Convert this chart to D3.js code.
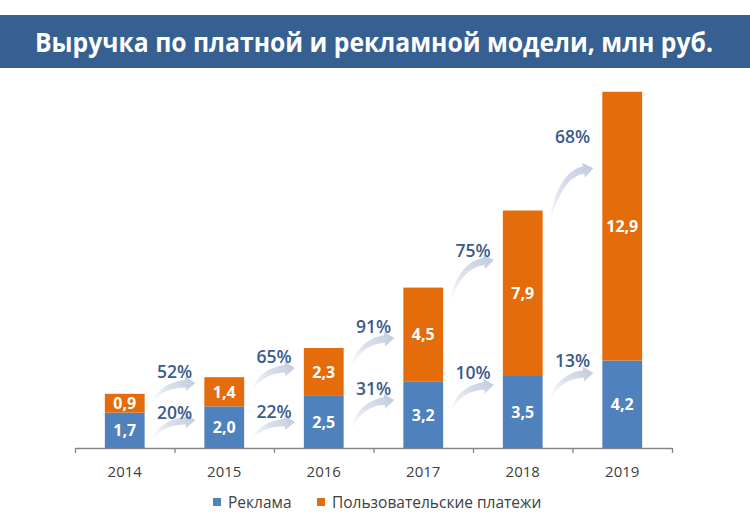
<!DOCTYPE html>
<html>
<head>
<meta charset="utf-8">
<script src="https://cdn.jsdelivr.net/npm/d3@7"></script>
<style>
  body { margin: 0; background: #fff; }
  svg { display: block; font-family: "Open Sans", sans-serif; }
</style>
</head>
<body>
<div id="chart"></div>
<script>
// chart data (млн руб.)
const years = ["2014", "2015", "2016", "2017", "2018", "2019"];
const reklama = [1.7, 2.0, 2.5, 3.2, 3.5, 4.2];
const platezhi = [0.9, 1.4, 2.3, 4.5, 7.9, 12.9];
const seriesNames = ["Реклама", "Пользовательские платежи"];

// growth labels between neighbouring years
const growthReklama = ["20%", "22%", "31%", "10%", "13%"];
const growthPlatezhi = ["52%", "65%", "91%", "75%", "68%"];

// where the growth arrows / labels sit, in axis units (млн руб.)
const lowArrowFrom = [0.38, 0.38, 0.86, 1.73, 2.30];
const lowArrowTo = [1.34, 1.25, 2.30, 3.02, 3.60];
const lowLabelAt = [1.68, 1.73, 2.83, 3.60, 4.17];
const highArrowFrom = [2.16, 2.69, 3.84, 7.00, 10.79];
const highArrowTo = [3.12, 3.84, 5.28, 9.02, 13.43];
const highLabelAt = [3.65, 4.36, 5.80, 9.45, 14.92];

const W = 750, H = 532;
const blue = "#4F81BD", orange = "#E46C0A", labelBlue = "#3B5B8D";

const svg = d3.select("#chart").append("svg")
    .attr("width", W)
    .attr("height", H);

// title banner
svg.append("rect")
    .attr("x", 0).attr("y", 15)
    .attr("width", W).attr("height", 53)
    .attr("fill", "#376092");
svg.append("text")
    .attr("x", 35).attr("y", 52)
    .attr("textLength", 678)
    .attr("lengthAdjust", "spacingAndGlyphs")
    .attr("fill", "#fff")
    .style("font-size", "26px")
    .style("font-weight", 700)
    .text("Выручка по платной и рекламной модели, млн руб.");

const x = d3.scaleBand()
    .domain(years)
    .range([75, 672])
    .paddingInner(0.6)
    .paddingOuter(0.3);

const y = d3.scaleLinear()
    .domain([0, 18])
    .range([448, 73]);

const bw = x.bandwidth(), step = x.step();

// axis with ticks on category boundaries
const tickScale = d3.scaleLinear().domain([0, years.length]).range([75, 672]);
const axis = svg.append("g")
    .attr("transform", `translate(0,${y(0)})`)
    .call(d3.axisBottom(tickScale).ticks(years.length).tickFormat("").tickSize(5).tickSizeOuter(0));
axis.select(".domain").attr("stroke", "#868686").attr("stroke-width", 1.3);
axis.selectAll(".tick line").attr("stroke", "#868686").attr("stroke-width", 1.3);

svg.selectAll(".year")
    .data(years)
    .enter().append("text")
    .attr("x", d => x(d) + bw / 2)
    .attr("y", 477)
    .attr("text-anchor", "middle")
    .attr("fill", "#404040")
    .style("font-size", "15px")
    .text(d => d);

// stacked bars
const rows = years.map((yr, i) => ({ year: yr, r: reklama[i], p: platezhi[i] }));

svg.selectAll(".bar-r")
    .data(rows)
    .enter().append("rect")
    .attr("x", d => x(d.year))
    .attr("y", d => y(d.r))
    .attr("width", bw)
    .attr("height", d => y(0) - y(d.r))
    .attr("fill", blue);

svg.selectAll(".bar-p")
    .data(rows)
    .enter().append("rect")
    .attr("x", d => x(d.year))
    .attr("y", d => y(d.r + d.p))
    .attr("width", bw)
    .attr("height", d => y(d.r) - y(d.r + d.p))
    .attr("fill", orange);

const fmt = v => v.toFixed(1).replace(".", ",");

svg.selectAll(".lab-r")
    .data(rows)
    .enter().append("text")
    .attr("x", d => x(d.year) + bw / 2)
    .attr("y", d => y(d.r / 2) + 6)
    .attr("text-anchor", "middle")
    .attr("fill", "#fff")
    .style("font-size", "16px")
    .style("font-weight", 700)
    .text(d => fmt(d.r));

svg.selectAll(".lab-p")
    .data(rows)
    .enter().append("text")
    .attr("x", d => x(d.year) + bw / 2)
    .attr("y", d => y(d.r + d.p / 2) + 6)
    .attr("text-anchor", "middle")
    .attr("fill", "#fff")
    .style("font-size", "16px")
    .style("font-weight", 700)
    .text(d => fmt(d.p));

// gradient for the curved arrows
const defs = svg.append("defs");
function arrowGradient(id, x0, y0, x1, y1) {
    const g = defs.append("linearGradient")
        .attr("id", id)
        .attr("gradientUnits", "userSpaceOnUse")
        .attr("x1", x0).attr("y1", y0)
        .attr("x2", x1).attr("y2", y1);
    g.append("stop").attr("offset", "0%").attr("stop-color", "#fff");
    g.append("stop").attr("offset", "45%").attr("stop-color", "#DCE2EC");
    g.append("stop").attr("offset", "100%").attr("stop-color", "#C3CDDE");
}

// tapered curved arrow from (x0,y0) to tip (x1,y1)
function arrowPath(x0, y0, x1, y1) {
    const dx = x1 - x0, dy = y0 - y1;
    const cx = x0 + 0.22 * dx, cy = y1 + 0.12 * dy;
    let ux = x1 - cx, uy = y1 - cy;
    const len = Math.hypot(ux, uy);
    ux /= len; uy /= len;
    const headLen = 10, headW = 7.5;
    const bx = x1 - ux * headLen, by = y1 - uy * headLen;
    const left = [], right = [];
    const n = 24;
    for (let k = 0; k <= n; k++) {
        const t = k / n;
        const px = (1 - t) * (1 - t) * x0 + 2 * (1 - t) * t * cx + t * t * bx;
        const py = (1 - t) * (1 - t) * y0 + 2 * (1 - t) * t * cy + t * t * by;
        let tx = 2 * (1 - t) * (cx - x0) + 2 * t * (bx - cx);
        let ty = 2 * (1 - t) * (cy - y0) + 2 * t * (by - cy);
        const tl = Math.hypot(tx, ty);
        tx /= tl; ty /= tl;
        const w = 0.4 + 3.4 * Math.pow(t, 0.8);
        left.push([px - ty * w, py + tx * w]);
        right.push([px + ty * w, py - tx * w]);
    }
    const nx = -uy, ny = ux;
    const pts = left
        .concat([[bx + nx * headW, by + ny * headW], [x1, y1], [bx - nx * headW, by - ny * headW]])
        .concat(right.slice().reverse());
    return "M" + pts.map(p => p[0].toFixed(2) + "," + p[1].toFixed(2)).join("L") + "Z";
}

function drawGrowth(labels, from, to, at, tag) {
    labels.forEach((lab, i) => {
        const x0 = x(years[i]) + bw + 7;
        const x1 = x(years[i + 1]) - 9;
        const y0 = y(from[i]), y1 = y(to[i]);
        const id = `grad-${tag}-${i}`;
        arrowGradient(id, x0, y0, x1, y1);
        svg.append("path")
            .attr("d", arrowPath(x0, y0, x1, y1))
            .attr("fill", `url(#${id})`);
        svg.append("text")
            .attr("x", x(years[i]) + bw + (step - bw) / 2)
            .attr("y", y(at[i]) + 6)
            .attr("text-anchor", "middle")
            .attr("fill", labelBlue)
            .style("font-size", "17.5px")
            .style("font-weight", 600)
            .text(lab);
    });
}

drawGrowth(growthReklama, lowArrowFrom, lowArrowTo, lowLabelAt, "r");
drawGrowth(growthPlatezhi, highArrowFrom, highArrowTo, highLabelAt, "p");

// legend
const legend = svg.append("g").attr("transform", "translate(0,502)");
const legendX = [213, 317];
seriesNames.forEach((name, i) => {
    legend.append("rect")
        .attr("x", legendX[i]).attr("y", -4)
        .attr("width", 8).attr("height", 8)
        .attr("fill", i === 0 ? blue : orange);
    legend.append("text")
        .attr("x", legendX[i] + 15)
        .attr("y", 5.5)
        .attr("fill", "#404040")
        .style("font-size", "15.5px")
        .text(name);
});
</script>
</body>
</html>
